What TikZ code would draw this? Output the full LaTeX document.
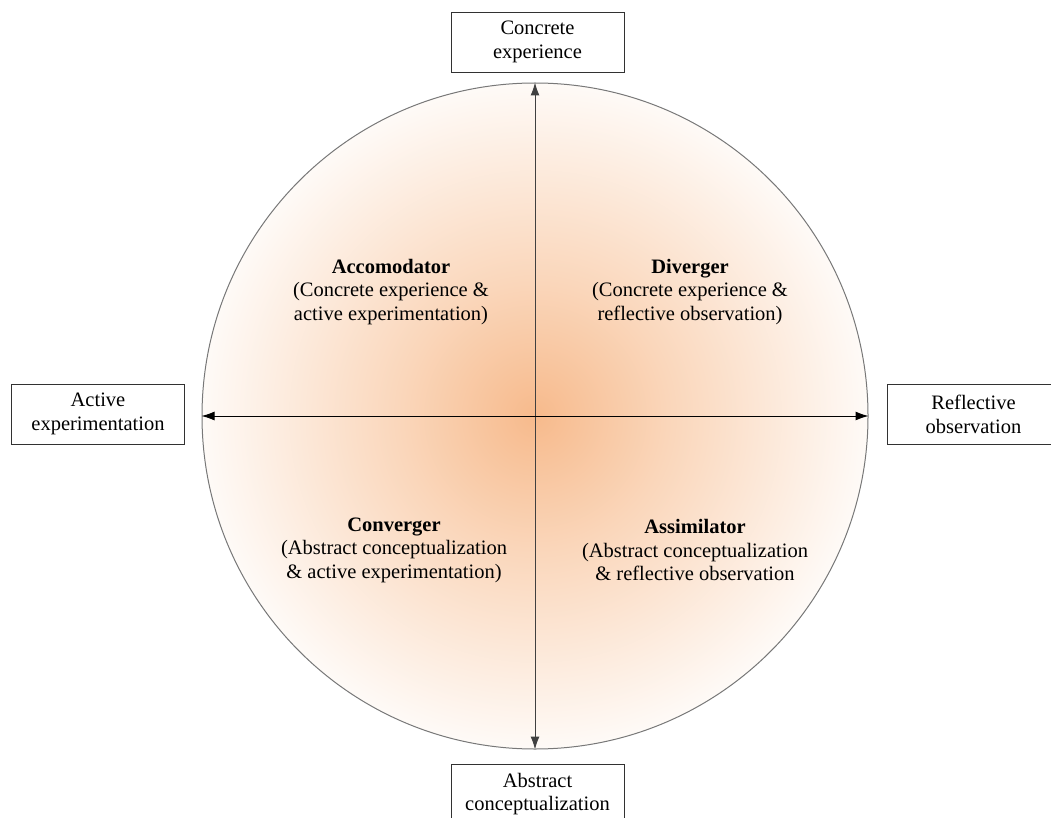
\documentclass[tikz,border=0pt]{standalone}
\usepackage{fontspec}
\setmainfont{Liberation Serif}
\usetikzlibrary{arrows.meta}
\definecolor{kcenter}{RGB}{247,186,140}
\definecolor{kmid}{RGB}{250,214,186}
\definecolor{ringgray}{RGB}{120,120,120}
\definecolor{boxline}{RGB}{50,50,50}
\pgfdeclareradialshading{kolb}{\pgfpoint{0bp}{0bp}}{%
  color(0bp)=(kcenter);
  color(10bp)=(kmid);
  color(27bp)=(white);
  color(50bp)=(white)}
\tikzset{
  x=1pt, y=-1pt,
  lbl/.style={font=\fontsize{20.5}{23.5}\selectfont, align=center, inner sep=0pt},
  pole/.style={draw=boxline, line width=0.9pt, minimum width=173pt, minimum height=60pt,
    inner sep=0pt, align=center, font=\fontsize{20.5}{23.5}\selectfont, fill=white},
  axis/.style={line width=1pt, {Latex[length=13pt,width=9pt]}-{Latex[length=13pt,width=9pt]}},
}
\begin{document}
\begin{tikzpicture}
\useasboundingbox (0,0) rectangle (1051,818);
\clip (0,0) rectangle (1051,818);
\node[circle, minimum size=666pt, inner sep=0pt, draw=ringgray, line width=1pt, shading=kolb] (c) at (535,416) {};
\draw[axis, draw=black!75] (c.south) -- (c.north);
\draw[axis, draw=black] (c.west) -- (c.east);
\node[pole] (ce) at (537.5,42) {Concrete\\experience};
\node[pole] (ac) at (537.5,794) {Abstract\\conceptualization};
\node[pole] (ae) at (98,414) {Active\\experimentation};
\node[pole] (ro) at (973.5,414.5) {Reflective\\observation};
\node[lbl] (acc) at (391,292) {\textbf{Accomodator}\\(Concrete experience \&\\active experimentation)};
\node[lbl] (div) at (690,292) {\textbf{Diverger}\\(Concrete experience \&\\reflective observation)};
\node[lbl] (con) at (394,550) {\textbf{Converger}\\(Abstract conceptualization\\\& active experimentation)};
\node[lbl] (ass) at (695,550) {\textbf{Assimilator}\\(Abstract conceptualization\\\& reflective observation};
\end{tikzpicture}
\end{document}
